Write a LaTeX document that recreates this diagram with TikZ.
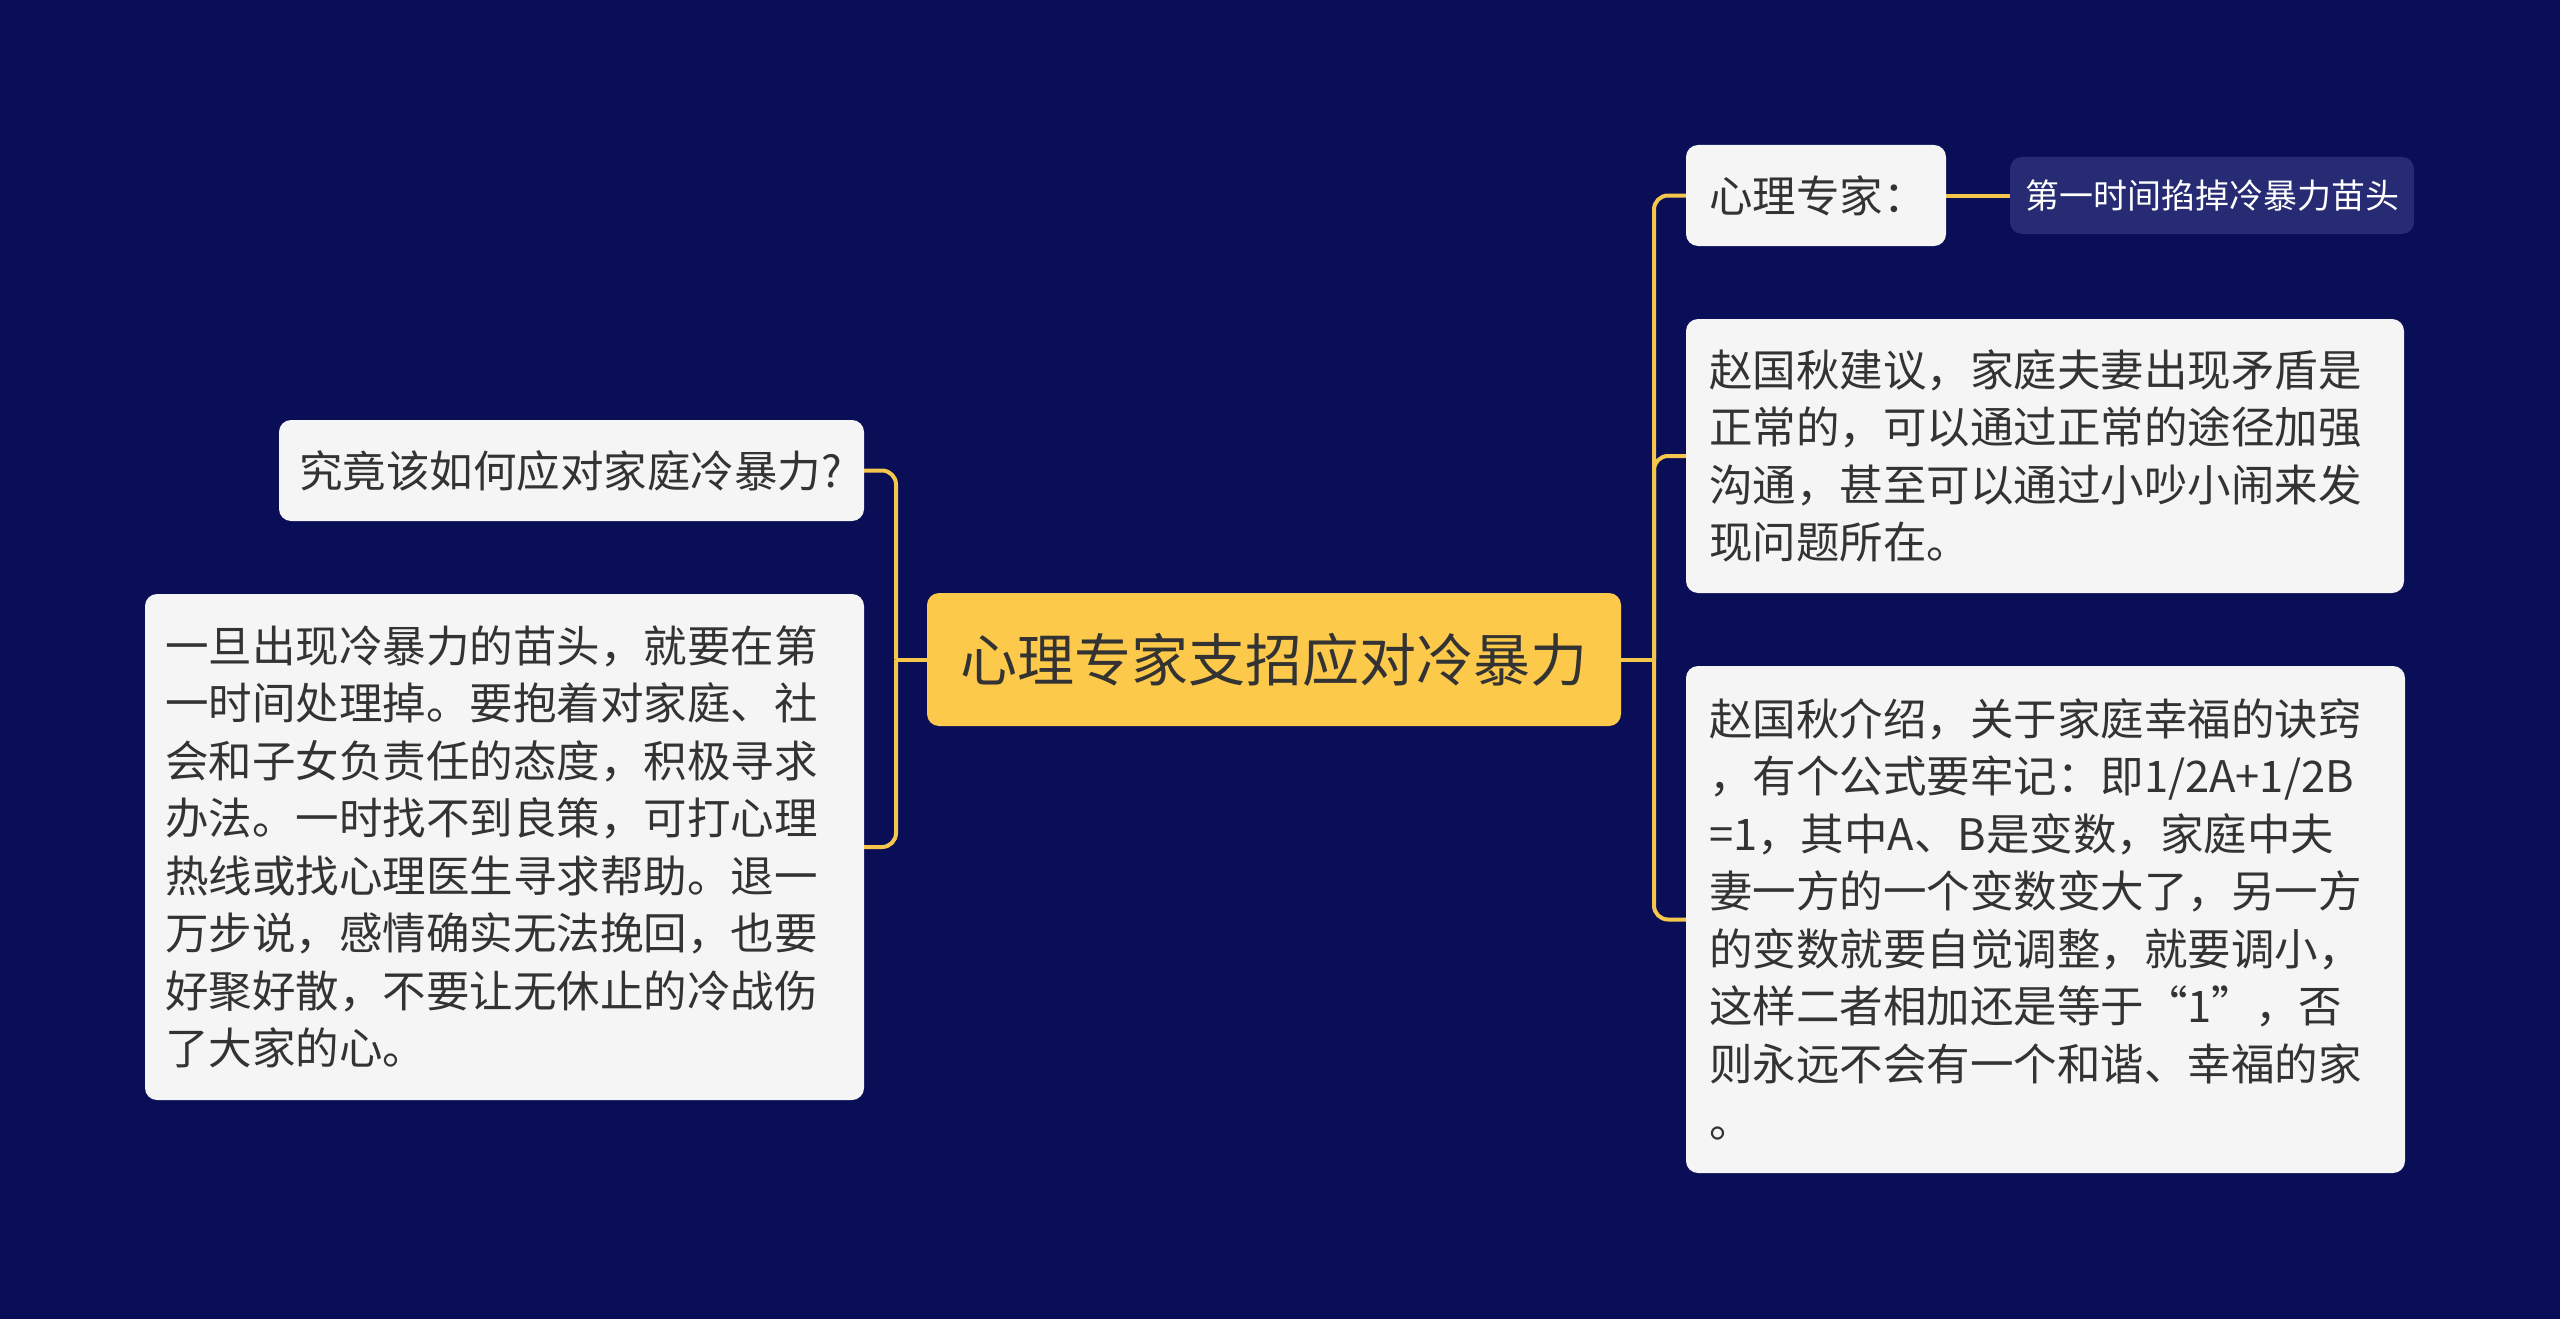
\documentclass[tikz,border=0pt]{standalone}
\usepackage{fontspec}
\newfontfamily\cjk{Noto Sans CJK SC}
\definecolor{bg}{HTML}{0A0E57}
\definecolor{gold}{HTML}{FDC94B}
\definecolor{lnk}{HTML}{F5C64C}
\definecolor{card}{HTML}{F5F5F5}
\definecolor{ink}{HTML}{333333}
\definecolor{subcard}{HTML}{262B73}
\tikzset{
  base/.style={rounded corners=12pt, inner sep=0pt, outer sep=0pt, text=ink},
  rootbox/.style={base, fill=gold, minimum width=694pt, minimum height=133pt,
    font=\cjk\fontsize{57pt}{76pt}\selectfont, align=center},
  cardbox/.style={base, fill=card, align=left, inner xsep=22pt,
    font=\cjk\fontsize{43.5pt}{57.5pt}\selectfont},
  subbox/.style={base, fill=subcard, text=white, minimum width=404pt, minimum height=77pt,
    font=\cjk\fontsize{34pt}{44pt}\selectfont, align=center},
  link/.style={draw=lnk, line width=4pt, rounded corners=14pt}
}
\begin{document}
\begin{tikzpicture}[x=1pt,y=-1pt]
\fill[bg] (0,0) rectangle (2560,1319);
\useasboundingbox (0,0) rectangle (2560,1319);

\node[rootbox] (root) at (1274,659.5) {心理专家支招应对冷暴力};

\node[cardbox, text width=545pt, minimum height=101pt, inner xsep=20pt] (q) at (571.5,470.5)
  {究竟该如何应对家庭冷暴力?};
\node[cardbox, text width=679pt, minimum height=506pt, inner xsep=20pt] (l) at (504.5,847)
  {一旦出现冷暴力的苗头，就要在第\\
   一时间处理掉。要抱着对家庭、社\\
   会和子女负责任的态度，积极寻求\\
   办法。一时找不到良策，可打心理\\
   热线或找心理医生寻求帮助。退一\\
   万步说，感情确实无法挽回，也要\\
   好聚好散，不要让无休止的冷战伤\\
   了大家的心。};

\node[cardbox, text width=214pt, minimum height=101pt, inner xsep=23pt] (e) at (1816,195.5)
  {心理专家：};
\node[subbox] (s) at (2212,195.5) {第一时间掐掉冷暴力苗头};
\node[cardbox, text width=672pt, minimum height=274pt, inner xsep=23pt] (a) at (2045,456)
  {赵国秋建议，家庭夫妻出现矛盾是\\
   正常的，可以通过正常的途径加强\\
   沟通，甚至可以通过小吵小闹来发\\
   现问题所在。};
\node[cardbox, text width=673pt, minimum height=507pt, inner xsep=23pt] (b) at (2045.5,919.5)
  {赵国秋介绍，关于家庭幸福的诀窍\\
   ，有个公式要牢记：即1/2A+1/2B\\
   =1，其中A、B是变数，家庭中夫\\
   妻一方的一个变数变大了，另一方\\
   的变数就要自觉调整，就要调小，\\
   这样二者相加还是等于“1”，否\\
   则永远不会有一个和谐、幸福的家\\
   。};

% junction points
\coordinate (rj) at (1654,659.5);
\coordinate (lj) at (896,659.5);

% right side
\draw[link] (root.east) -- (rj);
\draw[link] (rj) |- (e.west);
\draw[link] (rj) |- (a.west);
\draw[link] (rj) |- (b.west);
\draw[link] (e.east) -- (s.west);

% left side
\draw[link] (root.west) -- (lj);
\draw[link] (lj) |- (q.east);
\draw[link] (lj) |- (l.east);
\end{tikzpicture}
\end{document}
